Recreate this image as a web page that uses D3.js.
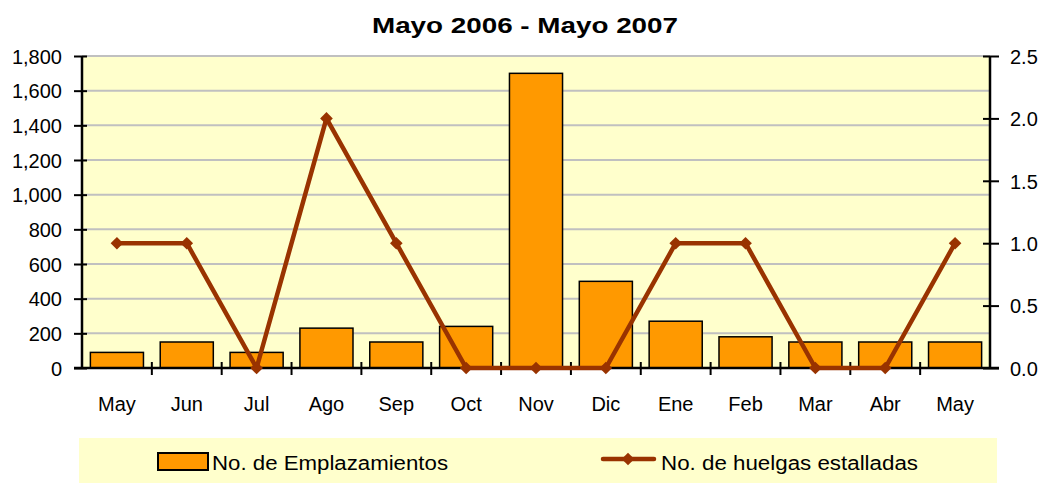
<!DOCTYPE html>
<html>
<head>
<meta charset="utf-8">
<script src="https://cdn.jsdelivr.net/npm/d3@7"></script>
<style>
  body { margin: 0; background: #fff; }
  svg { display: block; font-family: "Liberation Sans", Arial, sans-serif; }
</style>
</head>
<body>
<div class="svg"></div>
<script>
// data
const months = ["May", "Jun", "Jul", "Ago", "Sep", "Oct", "Nov", "Dic", "Ene", "Feb", "Mar", "Abr", "May"];
const emplazamientos = [90, 150, 90, 230, 150, 240, 1700, 500, 270, 180, 150, 150, 150];
const huelgas = [1, 1, 0, 2, 1, 0, 0, 0, 1, 1, 0, 0, 1];
const leftTicks = [0, 200, 400, 600, 800, 1000, 1200, 1400, 1600, 1800];
const rightTicks = [0, 0.5, 1.0, 1.5, 2.0, 2.5];

const W = 1042, H = 483;
const margin = {top: 56, right: 52, bottom: 115, left: 82};
const width = W - margin.left - margin.right,
      height = H - margin.top - margin.bottom;

const svg = d3.select(".svg").append("svg")
    .attr("width", W)
    .attr("height", H);

// title
svg.append("text")
    .attr("x", 525).attr("y", 33)
    .attr("text-anchor", "middle")
    .attr("font-size", 22).attr("font-weight", "bold")
    .attr("textLength", 306).attr("lengthAdjust", "spacingAndGlyphs")
    .text("Mayo 2006 - Mayo 2007");

const g = svg.append("g")
    .attr("transform", "translate(" + margin.left + "," + margin.top + ")");

// idx band so the two "May" don't collide
const x = d3.scaleBand()
    .domain(d3.range(months.length))
    .range([0, width])
    .paddingInner(0.24).paddingOuter(0.12);
const xPoint = i => x(i) + x.bandwidth() / 2;
const step = width / months.length;

const y = d3.scaleLinear().domain([0, 1800]).range([height, 0]);
const y2 = d3.scaleLinear().domain([0, 2.5]).range([height, 0]);

// plot bg
g.append("rect")
    .attr("width", width).attr("height", height)
    .attr("fill", "#FFFFCC");

// gridlines
g.selectAll(".grid").data(leftTicks.slice(1)).enter().append("line")
    .attr("x1", 0).attr("x2", width)
    .attr("y1", d => y(d)).attr("y2", d => y(d))
    .attr("stroke", "#c0c0c0").attr("stroke-width", 2);

// bars
g.selectAll(".bar").data(emplazamientos).enter().append("rect")
    .attr("class", "bar")
    .attr("x", (d, i) => x(i))
    .attr("y", d => y(d))
    .attr("width", x.bandwidth())
    .attr("height", d => height - y(d))
    .attr("fill", "#FF9900")
    .attr("stroke", "#000").attr("stroke-width", 1.5);

// left axis
const yAxis = d3.axisLeft(y).tickValues(leftTicks)
    .tickFormat(d3.format(",")).tickSize(0).tickPadding(20);
const ya = g.append("g").call(yAxis);
ya.select(".domain").remove();
ya.selectAll("text").attr("font-size", 20).attr("fill", "#000").attr("dy", "0.36em");
ya.selectAll(".tick").append("line")
    .attr("x1", -8).attr("x2", 5).attr("stroke", "#000").attr("stroke-width", 2);

// right axis
const y2Axis = d3.axisRight(y2).tickValues(rightTicks)
    .tickFormat(d3.format(".1f")).tickSize(0).tickPadding(20);
const yb = g.append("g").attr("transform", "translate(" + width + ",0)").call(y2Axis);
yb.select(".domain").remove();
yb.selectAll("text").attr("font-size", 20).attr("fill", "#000").attr("dy", "0.36em");
yb.selectAll(".tick").append("line")
    .attr("x1", -7).attr("x2", 9).attr("stroke", "#000").attr("stroke-width", 2);

// axis lines
g.append("line").attr("x1", 0).attr("x2", 0).attr("y1", 0).attr("y2", height)
    .attr("stroke", "#000").attr("stroke-width", 2.5);
g.append("line").attr("x1", width).attr("x2", width).attr("y1", 0).attr("y2", height)
    .attr("stroke", "#000").attr("stroke-width", 2.5);
g.append("line").attr("x1", -8).attr("x2", width + 9).attr("y1", height).attr("y2", height)
    .attr("stroke", "#000").attr("stroke-width", 2.5);

// x ticks between categories
g.selectAll(".xtick").data(d3.range(1, months.length)).enter().append("line")
    .attr("x1", d => d * step).attr("x2", d => d * step)
    .attr("y1", height - 6).attr("y2", height + 7)
    .attr("stroke", "#000").attr("stroke-width", 2);

// x labels
g.selectAll(".xlabel").data(months).enter().append("text")
    .attr("x", (d, i) => xPoint(i))
    .attr("y", height + 43)
    .attr("text-anchor", "middle")
    .attr("font-size", 20)
    .text(d => d);

// line
const line = d3.line()
    .x((d, i) => xPoint(i))
    .y(d => y2(d));
g.append("path").datum(huelgas)
    .attr("d", line)
    .attr("fill", "none")
    .attr("stroke", "#993300").attr("stroke-width", 4.5)
    .attr("stroke-linejoin", "round");

// rotated square marker
const diamond = d3.symbol().type(d3.symbolSquare).size(80);
g.selectAll(".pt").data(huelgas).enter().append("path")
    .attr("d", diamond)
    .attr("transform", (d, i) => "translate(" + xPoint(i) + "," + y2(d) + ") rotate(45)")
    .attr("fill", "#993300");

// legend
const lg = svg.append("g");
lg.append("rect")
    .attr("x", 79).attr("y", 438).attr("width", 918).attr("height", 50)
    .attr("fill", "#FFFFCC");
lg.append("rect")
    .attr("x", 158).attr("y", 453).attr("width", 50).attr("height", 17)
    .attr("fill", "#FF9900").attr("stroke", "#000").attr("stroke-width", 2);
lg.append("text")
    .attr("x", 212).attr("y", 470)
    .attr("font-size", 20)
    .attr("textLength", 236).attr("lengthAdjust", "spacingAndGlyphs")
    .text("No. de Emplazamientos");
lg.append("line")
    .attr("x1", 603).attr("x2", 654).attr("y1", 459).attr("y2", 459)
    .attr("stroke", "#993300").attr("stroke-width", 4.5).attr("stroke-linecap", "round");
lg.append("path")
    .attr("d", diamond)
    .attr("transform", "translate(628,459) rotate(45)")
    .attr("fill", "#993300");
lg.append("text")
    .attr("x", 661).attr("y", 470)
    .attr("font-size", 20)
    .attr("textLength", 257).attr("lengthAdjust", "spacingAndGlyphs")
    .text("No. de huelgas estalladas");
</script>
</body>
</html>
